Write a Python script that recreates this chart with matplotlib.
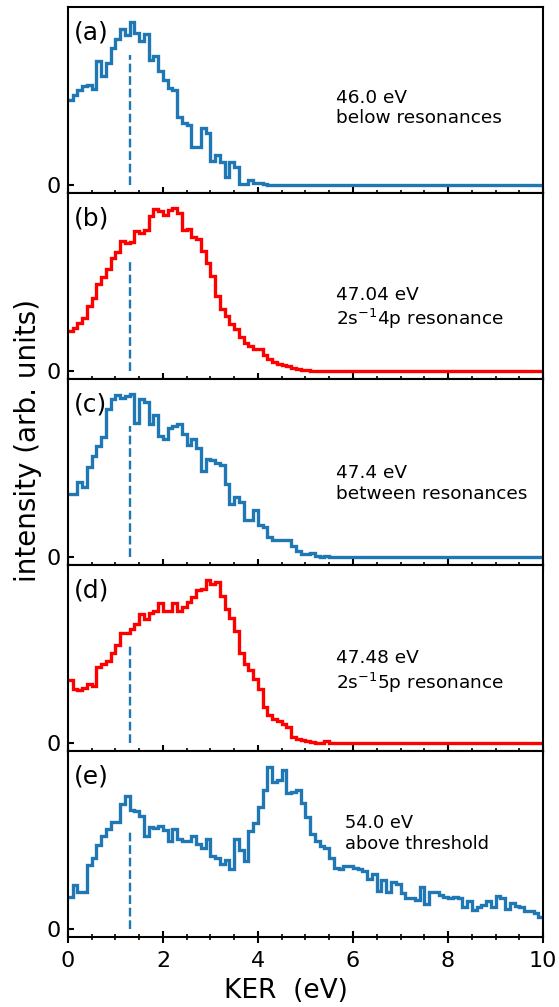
import numpy as np
import matplotlib
matplotlib.use("Agg")
import matplotlib.pyplot as plt

# KER histogram bins (eV): 0.0 .. 10.0, width 0.1
bin_edges = np.round(np.arange(0, 10.0001, 0.1), 2)

# intensities (arb. units), one value per 0.1 eV bin
ker_a = [84, 89, 94, 98, 99, 95, 123, 108, 121, 136,
         145, 155, 149, 162, 151, 143, 150, 124, 128, 113,
         104, 96, 94, 68, 62, 60, 38, 38, 57, 52,
         24, 30, 23, 8, 23, 18, 1, 1, 5, 2,
         2, 0.5, 0, 0, 0, 0, 0, 0, 0, 0,
         0, 0, 0, 0, 0, 0, 0, 0, 0, 0,
         0, 0, 0, 0, 0, 0, 0, 0, 0, 0,
         0, 0, 0, 0, 0, 0, 0, 0, 0, 0,
         0, 0, 0, 0, 0, 0, 0, 0, 0, 0,
         0, 0, 0, 0, 0, 0, 0, 0, 0, 0]

ker_b = [40, 43, 48, 53, 65, 73, 86, 93, 101, 112,
         118, 129, 127, 128, 139, 137, 140, 154, 161, 159,
         155, 160, 162, 157, 140, 141, 133, 131, 119, 107,
         94, 75, 62, 55, 47, 42, 34, 28, 25, 22,
         22, 16, 12, 9, 7, 6, 5, 3, 2, 1,
         0.5, 0, 0, 0, 0, 0, 0, 0, 0, 0,
         0, 0, 0, 0, 0, 0, 0, 0, 0, 0,
         0, 0, 0, 0, 0, 0, 0, 0, 0, 0,
         0, 0, 0, 0, 0, 0, 0, 0, 0, 0,
         0, 0, 0, 0, 0, 0, 0, 0, 0, 0]

ker_c = [63, 63, 75, 70, 89, 100, 110, 119, 147, 157,
         161, 158, 160, 162, 133, 157, 154, 132, 141, 120,
         117, 128, 130, 132, 122, 111, 117, 108, 85, 97,
         96, 93, 91, 73, 53, 60, 55, 37, 37, 47,
         32, 30, 20, 17, 17, 17, 17, 11, 6, 3,
         3, 4, 1, 0, 0.5, 0, 0, 0, 0, 0,
         0, 0, 0, 0, 0, 0, 0, 0, 0, 0,
         0, 0, 0, 0, 0, 0, 0, 0, 0, 0,
         0, 0, 0, 0, 0, 0, 0, 0, 0, 0,
         0, 0, 0, 0, 0, 0, 0, 0, 0, 0]

ker_d = [63, 54, 53, 55, 59, 57, 75, 78, 81, 89,
         97, 109, 109, 113, 118, 128, 123, 129, 131, 139,
         131, 131, 139, 131, 135, 140, 145, 152, 153, 162,
         158, 160, 146, 133, 124, 111, 89, 78, 73, 64,
         54, 36, 28, 24, 22, 19, 16, 6, 4, 3,
         2, 1, 0, 0, 1.7, 0, 0, 0, 0, 0,
         0, 0, 0, 0, 0, 0, 0, 0, 0, 0,
         0, 0, 0, 0, 0, 0, 0, 0, 0, 0,
         0, 0, 0, 0, 0, 0, 0, 0, 0, 0,
         0, 0, 0, 0, 0, 0, 0, 0, 0, 0]

ker_e = [32, 44, 37, 37, 64, 71, 83, 92, 99, 106,
         106, 124, 132, 118, 117, 112, 92, 101, 100, 102,
         98, 87, 99, 89, 87, 87, 92, 84, 80, 89,
         72, 71, 65, 69, 60, 89, 78, 68, 97, 105,
         121, 138, 161, 146, 148, 158, 135, 136, 138, 125,
         111, 94, 87, 82, 80, 71, 61, 60, 63, 63,
         61, 60, 58, 50, 55, 38, 49, 37, 47, 45,
         36, 31, 31, 29, 42, 25, 37, 37, 34, 32,
         31, 32, 31, 22, 28, 19, 22, 24, 28, 22,
         33, 31, 20, 26, 23, 22, 18, 18, 16, 12]

panel_series = [ker_a, ker_b, ker_c, ker_d, ker_e]
panel_tags = ["(a)", "(b)", "(c)", "(d)", "(e)"]
panel_notes = ["46.0 eV\nbelow resonances",
               "47.04 eV\n2s$^{-1}$4p resonance",
               "47.4 eV\nbetween resonances",
               "47.48 eV\n2s$^{-1}$5p resonance",
               "54.0 eV\nabove threshold"]
panel_colors = ["#1f77b4", "red", "#1f77b4", "red", "#1f77b4"]
marker_ker = 1.3
marker_heights = [129, 110, 130, 97, 96]

note_x = [0.564, 0.564, 0.564, 0.564, 0.583]
note_y = [0.56, 0.50, 0.54, 0.545, 0.66]
note_size = [13.3, 13.3, 13.3, 13.3, 12.8]

fig = plt.figure(figsize=(5.59, 10.07), dpi=100)
axes = fig.subplots(5, 1, sharex=True)
fig.subplots_adjust(left=0.1216, right=0.9714, top=0.9933, bottom=0.0698, hspace=0)

for i, ax in enumerate(axes):
    ax.stairs(panel_series[i], bin_edges, baseline=None,
              color=panel_colors[i], linewidth=2.4)
    ax.vlines(marker_ker, 0, marker_heights[i], colors="#1f77b4",
              linestyles="--", linewidth=1.7)
    ax.set_xlim(0, 10)
    ax.set_ylim(-8, 177.5)
    ax.set_yticks([0])
    ax.set_xticks(np.arange(0, 10.01, 2))
    ax.set_xticks(np.arange(0, 10.01, 0.5), minor=True)
    for sp in ax.spines.values():
        sp.set_linewidth(1.5)
    ax.tick_params(axis="x", which="major", direction="inout", length=8,
                   width=1.5, top=False, bottom=True, labelsize=16, pad=6)
    ax.tick_params(axis="x", which="minor", direction="inout", length=5,
                   width=1.2, top=False, bottom=True)
    ax.tick_params(axis="y", which="major", direction="in", length=4.5,
                   width=1.5, labelsize=16, pad=5)
    ax.text(0.012, 0.925, panel_tags[i], transform=ax.transAxes,
            fontsize=18, ha="left", va="top")
    ax.text(note_x[i], note_y[i], panel_notes[i], transform=ax.transAxes,
            fontsize=note_size[i], ha="left", va="top", linespacing=1.2)

fig.text(0.512, 0.016, "KER  (eV)", ha="center", va="center", fontsize=19)
fig.text(0.05, 0.563, "intensity (arb. units)", ha="center", va="center",
         rotation=90, fontsize=20)

fig.savefig("out.png", dpi=100)
